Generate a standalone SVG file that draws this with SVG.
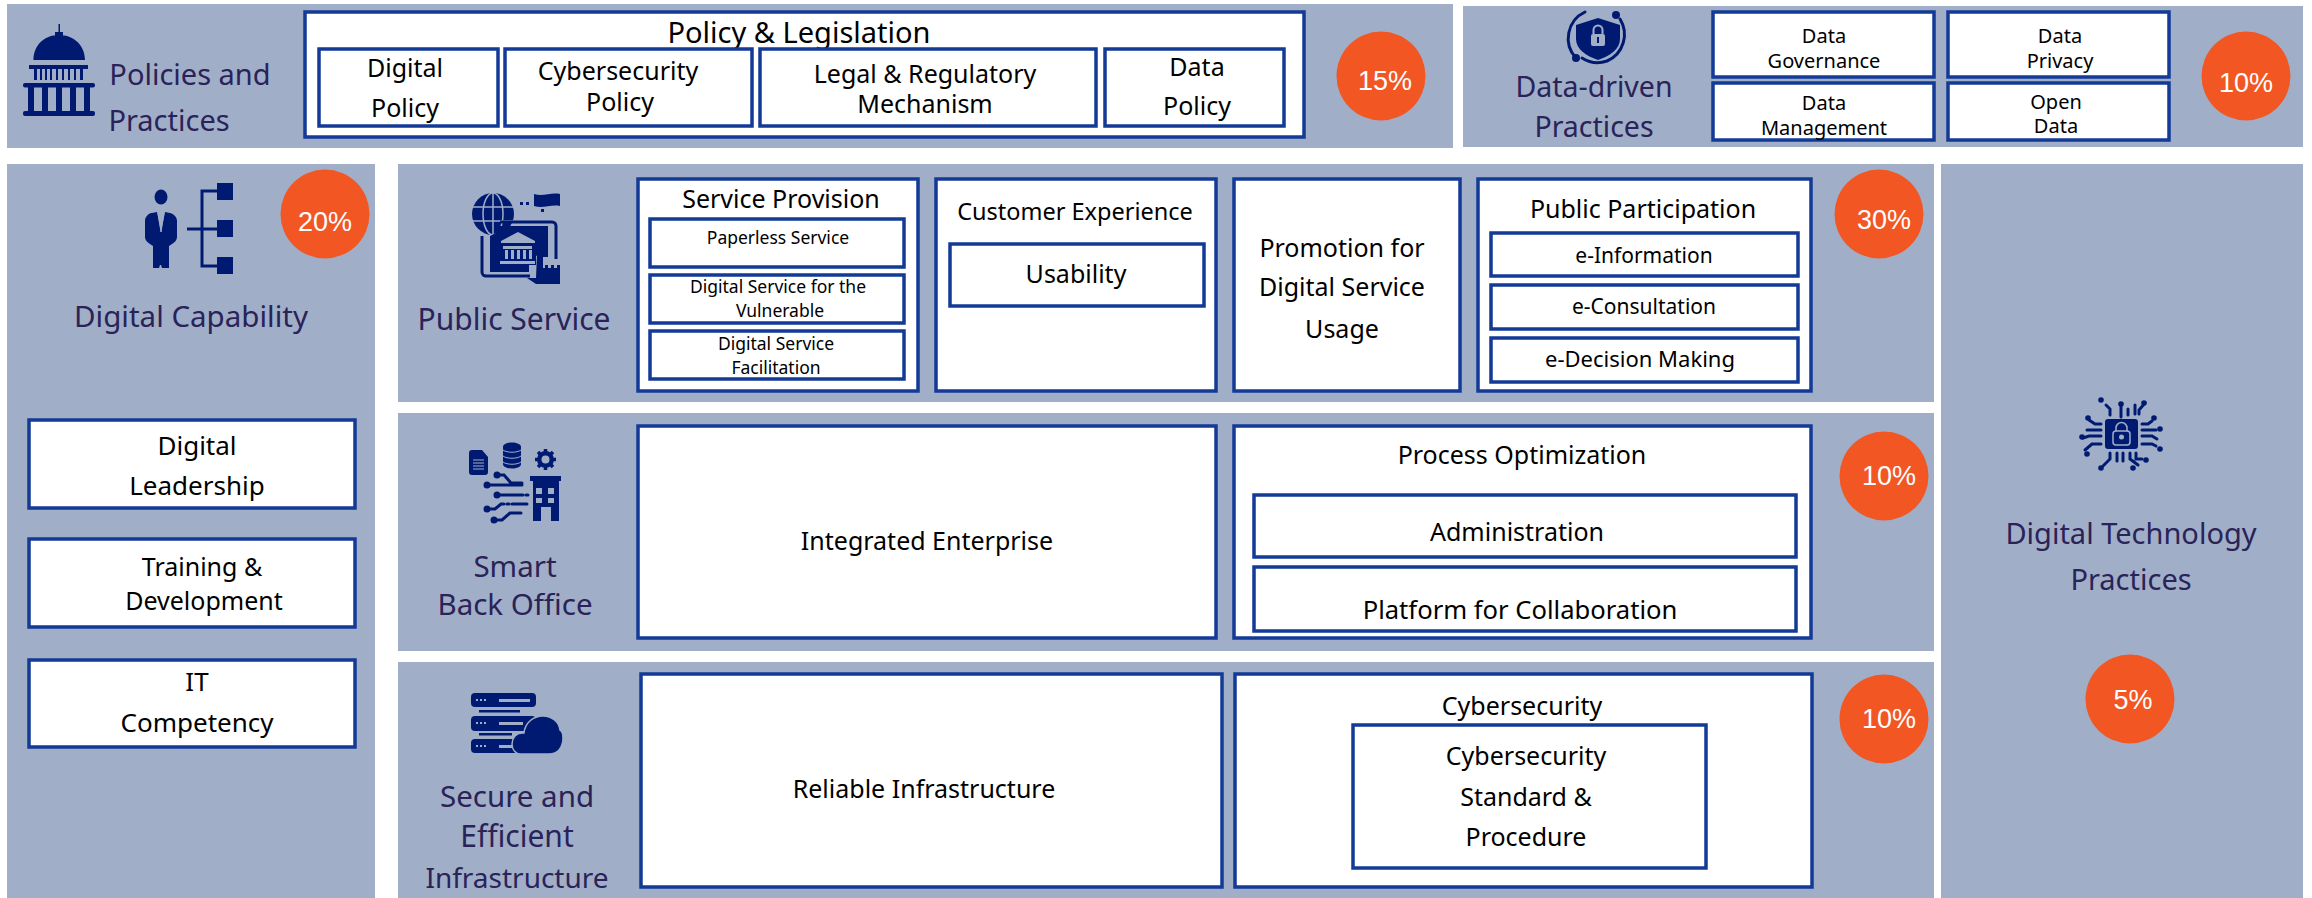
<svg xmlns="http://www.w3.org/2000/svg" width="2312" height="898" viewBox="0 0 2312 898">
<style>
text{font-family:"Noto Sans","Open Sans","Liberation Sans",sans-serif;text-anchor:middle;fill:#000}
.band{fill:#a1aec8}
.box{fill:#fff;stroke:#123a96;stroke-width:3.5}
.t{fill:#2a2358}
.pct{fill:#f15623}
text.p{fill:#fff;font-size:27px;font-family:"Liberation Sans",Arial,sans-serif}
.i{fill:#001a72}
.l{fill:none;stroke:#001a72;stroke-width:3;stroke-linecap:round}
.w{fill:#a1aec8}
</style>
<rect width="2312" height="898" fill="#fff"/>
<g id="policies">
<rect class="band" x="7" y="4" width="1446" height="144"/>
<g id="icon-capitol">
<path class="i" d="M58.500 24h1.500v8h-1.500z"/><path class="i" d="M55 32h8v4h-8zM33.500 60c0-14 10-25 25.500-25s26 11 26 25z"/>
<rect class="i" x="29" y="65" width="59" height="4"/><path class="i" d="M34 69h3v11h-3zM40 69h2v11h-2zM45 69h2v11h-2zM50 69h2v11h-2zM56 69h2v11h-2zM62 69h2v11h-2zM68 69h2v11h-2zM74 69h2v11h-2zM80 69h3v11h-3z"/>
<rect class="i" x="23" y="83" width="72" height="4.500" rx="2"/><path class="i" d="M28 87h6v24h-6zM42 87h6v24h-6zM56 87h6v24h-6zM70 87h6v24h-6zM84 87h6v24h-6z"/>
<rect class="i" x="23" y="111" width="72" height="5" rx="2"/>
</g>
<text class="t" font-size="29" x="190" y="85">Policies and</text>
<text class="t" font-size="29" x="169" y="131">Practices</text>
<rect class="box" x="305" y="12" width="999" height="125"/>
<text font-size="29" x="799" y="43">Policy &amp; Legislation</text>
<g id="digital-policy"><rect class="box" x="319" y="49" width="179" height="77"/><text font-size="25" x="405" y="77">Digital</text><text font-size="25" x="405" y="117">Policy</text></g>
<g id="cybersecurity-policy"><rect class="box" x="505" y="49" width="247" height="77"/><text font-size="25" x="618" y="80">Cybersecurity</text><text font-size="25" x="620" y="111">Policy</text></g>
<g id="legal"><rect class="box" x="760" y="49" width="336" height="77"/><text font-size="25" x="925" y="83">Legal &amp; Regulatory</text><text font-size="25" x="925" y="113">Mechanism</text></g>
<g id="data-policy"><rect class="box" x="1105" y="49" width="179" height="77"/><text font-size="25" x="1197" y="76">Data</text><text font-size="25" x="1197" y="115">Policy</text></g>
<circle class="pct" cx="1381" cy="76" r="44.500"/><text class="p" x="1385" y="90">15%</text>
</g>
<g id="data-driven">
<rect class="band" x="1463" y="6" width="840" height="141"/>
<g id="icon-shield">
<path class="l" stroke-width="2" d="M1585 12a29 29 0 0 0-9 46M1620 19a29 29 0 0 1-13 42a29 29 0 0 1-25-3"/>
<circle class="i" cx="1616" cy="15" r="4"/><circle class="i" cx="1576" cy="58" r="4"/>
<path class="i" d="M1598 18l22 7v14c0 10-10 17-22 21c-12-4-22-11-22-21v-14z"/>
<rect class="w" x="1591" y="34" width="14" height="12" rx="2"/><path d="M1593.500 34v-4a4.500 4.500 0 0 1 9 0v4" fill="none" stroke="#a1aec8" stroke-width="2"/><rect class="i" x="1597" y="37" width="2" height="6"/>
</g>
<text class="t" font-size="28.500" x="1594" y="97">Data-driven</text>
<text class="t" font-size="28.500" x="1594" y="137">Practices</text>
<g id="data-governance"><rect class="box" x="1713" y="12" width="221" height="65"/><text font-size="20" x="1824" y="43">Data</text><text font-size="20" x="1824" y="68">Governance</text></g>
<g id="data-privacy"><rect class="box" x="1948" y="12" width="221" height="65"/><text font-size="20" x="2060" y="43">Data</text><text font-size="20" x="2060" y="68">Privacy</text></g>
<g id="data-management"><rect class="box" x="1713" y="83" width="221" height="57"/><text font-size="20" x="1824" y="110">Data</text><text font-size="20" x="1824" y="135">Management</text></g>
<g id="open-data"><rect class="box" x="1948" y="83" width="221" height="57"/><text font-size="20" x="2056" y="109">Open</text><text font-size="20" x="2056" y="133">Data</text></g>
<circle class="pct" cx="2246" cy="76" r="44.500"/><text class="p" x="2246" y="92">10%</text>
</g>
<g id="digital-capability">
<rect class="band" x="7" y="164" width="368" height="734"/>
<g id="icon-person">
<ellipse class="i" cx="161" cy="197" rx="6.500" ry="7.500"/>
<path class="i" d="M152 213l5-1l4 20l4-20l5 1c4 1 7 4 7 8v16c0 3-2 5-5 7l-3 2v22h-7l-1-3h-1l-1 3h-6v-22l-3-2c-3-2-5-4-5-7v-16c0-4 3-7 6-8z"/>
<path d="M158 213l3 19l3-19" fill="none" stroke="#a1aec8" stroke-width="1"/>
<path d="M187 229h30M217 191h-15v75h15" fill="none" stroke="#001a72" stroke-width="3"/>
<rect class="i" x="217" y="183" width="16" height="17"/><rect class="i" x="217" y="220" width="16" height="17"/><rect class="i" x="217" y="257" width="16" height="17"/>
</g>
<text class="t" font-size="29.500" x="191" y="327">Digital Capability</text>
<g id="digital-leadership"><rect class="box" x="29" y="420" width="326" height="88"/><text font-size="26" x="197" y="455">Digital</text><text font-size="26" x="197" y="495">Leadership</text></g>
<g id="training"><rect class="box" x="29" y="539" width="326" height="88"/><text font-size="25" x="202" y="576">Training &amp;</text><text font-size="25" x="204" y="610">Development</text></g>
<g id="it-competency"><rect class="box" x="29" y="660" width="326" height="87"/><text font-size="26" x="197" y="691">IT</text><text font-size="26" x="197" y="732">Competency</text></g>
<circle class="pct" cx="325" cy="214" r="44.500"/><text class="p" x="325" y="231">20%</text>
</g>
<g id="public-service">
<rect class="band" x="398" y="164" width="1536" height="238"/>
<g id="icon-public">
<circle class="i" cx="493" cy="214" r="21"/>
<path d="M472 207h42M472 221h42M493 193v42" stroke="#a1aec8" stroke-width="1.500"/><ellipse cx="493" cy="214" rx="10" ry="21" fill="none" stroke="#a1aec8" stroke-width="1.500"/>
<path class="i" d="M534 194c9 3 17-2 26 0v12c-9-2-17 3-26 0zM520 202h3v3h-3zM526 202h3v3h-3zM541 209h3v3h-3z"/>
<path d="M500 222h52a4 4 0 0 1 4 4v33M482 236v36a4 4 0 0 0 4 4h44" fill="none" stroke="#001a72" stroke-width="3"/>
<path class="i" d="M490 236l6-3v32h33v7h-39z"/><path class="i" d="M496 226h52v31h-8v-3l-4 2v9h-40z"/>
<path class="w" d="M518 232l17 9v2h-34v-2zM503 246h29v3h-29zM505 250h3v9h-3zM511 250h3v9h-3zM517 250h3v9h-3zM523 250h3v9h-3zM529 250h3v9h-3zM500 261h35v3h-35z"/>
<path class="i" d="M537 254h6v14h2v-3h3v3h3v-3h3v3h3v-3h3v19h-24l-9-6h9z"/>
</g>
<text class="t" font-size="30" x="514" y="330">Public Service</text>
<g id="service-provision">
<rect class="box" x="638" y="179" width="280" height="212"/>
<text font-size="25" x="781" y="208">Service Provision</text>
<rect class="box" x="650" y="219" width="254" height="48"/><text font-size="17.500" x="778" y="244">Paperless Service</text>
<rect class="box" x="650" y="275" width="254" height="48"/><text font-size="17.500" x="778" y="293">Digital Service for the</text><text font-size="17.500" x="780" y="317">Vulnerable</text>
<rect class="box" x="650" y="331" width="254" height="48"/><text font-size="17.500" x="776" y="350">Digital Service</text><text font-size="17.500" x="776" y="374">Facilitation</text>
</g>
<g id="customer-experience">
<rect class="box" x="936" y="179" width="280" height="212"/>
<text font-size="23.500" x="1075" y="220">Customer Experience</text>
<rect class="box" x="950" y="244" width="254" height="62"/><text font-size="25" x="1076" y="283">Usability</text>
</g>
<g id="promotion"><rect class="box" x="1234" y="179" width="226" height="212"/><text font-size="25" x="1342" y="257">Promotion for</text><text font-size="25" x="1342" y="296">Digital Service</text><text font-size="25" x="1342" y="338">Usage</text></g>
<g id="public-participation">
<rect class="box" x="1478" y="179" width="333" height="212"/>
<text font-size="25" x="1643" y="218">Public Participation</text>
<rect class="box" x="1491" y="233" width="307" height="43"/><text font-size="21" x="1644" y="263">e-Information</text>
<rect class="box" x="1491" y="285" width="307" height="44"/><text font-size="21" x="1644" y="314">e-Consultation</text>
<rect class="box" x="1491" y="338" width="307" height="44"/><text font-size="22" x="1640" y="367">e-Decision Making</text>
</g>
<circle class="pct" cx="1879" cy="214" r="44.500"/><text class="p" x="1884" y="229">30%</text>
</g>
<g id="smart-back-office">
<rect class="band" x="398" y="413" width="1536" height="238"/>
<g id="icon-office">
<path class="i" d="M469 453a3 3 0 0 1 3-3h10l6 7v15a3 3 0 0 1-3 3h-13a3 3 0 0 1-3-3z"/><path d="M473 460h11M473 463h11M473 466h11M473 469h11" stroke="#a1aec8" stroke-width="1"/>
<path class="i" d="M503 447c0-6 18-6 18 0v17c0 6-18 6-18 0z"/><path d="M503 450c4 3 14 3 18 0M503 456c4 3 14 3 18 0M503 462c4 3 14 3 18 0" fill="none" stroke="#a1aec8" stroke-width="1"/>
<path d="M545.500 449v21M535 459.500h21M538 452l15 15M553 452l-15 15" stroke="#001a72" stroke-width="3.500"/><circle class="i" cx="545.500" cy="459.500" r="8.500"/><circle class="w" cx="545.500" cy="459.500" r="4"/>
<path class="i" d="M530 476h31v5h-2v40h-8v-14h-10v14h-8v-40h-3z"/><path class="w" d="M536 488h6v6h-6zM548 488h6v6h-6zM536 498h6v5h-6zM548 498h6v5h-6z"/>
<path class="l" d="M497 475h7l7 8h11M487 485h35M497 495h26M526 495h2M487 509h8l6-5h3M507 504h2M512 504h15M494 520h8l8-7h11"/>
<circle class="i" cx="497" cy="475" r="3.500"/><circle class="i" cx="487" cy="485" r="3.500"/><circle class="i" cx="497" cy="495" r="3.500"/><circle class="i" cx="487" cy="509" r="3.500"/><circle class="i" cx="494" cy="520" r="3.500"/>
</g>
<text class="t" font-size="29.500" x="515" y="577">Smart</text>
<text class="t" font-size="29.500" x="515" y="615">Back Office</text>
<g id="integrated-enterprise"><rect class="box" x="638" y="426" width="578" height="212"/><text font-size="25" x="927" y="550">Integrated Enterprise</text></g>
<g id="process-optimization">
<rect class="box" x="1234" y="426" width="577" height="212"/>
<text font-size="25" x="1522" y="464">Process Optimization</text>
<rect class="box" x="1254" y="495" width="542" height="62"/><text font-size="25" x="1517" y="541">Administration</text>
<rect class="box" x="1254" y="567" width="542" height="64"/><text font-size="25.600" x="1520" y="619">Platform for Collaboration</text>
</g>
<circle class="pct" cx="1884" cy="476" r="44.500"/><text class="p" x="1889" y="485">10%</text>
</g>
<g id="secure-infrastructure">
<rect class="band" x="398" y="662" width="1536" height="236"/>
<g id="icon-cloud">
<rect class="i" x="471" y="693" width="65" height="14" rx="4"/><rect class="i" x="471" y="716" width="65" height="15" rx="4"/><rect class="i" x="471" y="739" width="50" height="14" rx="4"/>
<path class="i" d="M479 710h41v2.500h-41zM479 733h33v2.500h-33z"/>
<path class="w" d="M499 699h31v3h-31zM499 722h24v3h-24zM499 745h14v3h-14zM476 699h2v2h-2zM480 699h2v2h-2zM484 699h2v2h-2zM476 722h2v2h-2zM480 722h2v2h-2zM484 722h2v2h-2zM476 745h2v2h-2zM480 745h2v2h-2zM484 745h2v2h-2z"/>
<path d="M521 754c-6 0-9-5-9-10c0-6 4-11 10-11h2c1-10 9-17 19-17c9 0 16 6 17 14c2 1 3 4 3 8c0 9-5 16-14 16z" fill="#001a72" stroke="#a1aec8" stroke-width="1.500"/>
</g>
<text class="t" font-size="29.500" x="517" y="807">Secure and</text>
<text class="t" font-size="30" x="517" y="847">Efficient</text>
<text class="t" font-size="28" x="517" y="888">Infrastructure</text>
<g id="reliable-infrastructure"><rect class="box" x="641" y="674" width="581" height="213"/><text font-size="25" x="924" y="798">Reliable Infrastructure</text></g>
<g id="cybersecurity">
<rect class="box" x="1235" y="674" width="577" height="213"/>
<text font-size="25" x="1522" y="715">Cybersecurity</text>
<rect class="box" x="1353" y="725" width="353" height="143"/>
<text font-size="25" x="1526" y="765">Cybersecurity</text><text font-size="25" x="1526" y="806">Standard &amp;</text><text font-size="25" x="1526" y="846">Procedure</text>
</g>
<circle class="pct" cx="1884" cy="719" r="44.500"/><text class="p" x="1889" y="728">10%</text>
</g>
<g id="digital-technology">
<rect class="band" x="1941" y="164" width="362" height="734"/>
<g id="icon-chip">
<rect class="i" x="2105" y="419" width="33" height="30" rx="3"/>
<rect x="2113" y="431" width="17" height="14" rx="3" fill="none" stroke="#a1aec8" stroke-width="1.500"/><path d="M2116 431v-3a5.500 5.500 0 0 1 11 0v3" fill="none" stroke="#a1aec8" stroke-width="1.500"/><circle class="w" cx="2121.500" cy="437" r="2.500"/>
<path class="l" stroke-width="2" d="M2106 405l4 4v6M2121 405v12M2128 409v6M2135 405v9M2145 403l-6 7v4M2101 424h-6l-6-4M2101 430h-14M2101 436h-12l-6 2M2101 444h-9l-7 6M2142 424h6l4-3M2142 430h14M2142 436h10l5 3M2142 444h10l4 2M2110 453v6l-7 7M2117 453v8M2123 453v8M2130 453v6l8 6M2136 453v6h6"/>
<circle class="i" cx="2101" cy="400" r="2.800"/><circle class="i" cx="2121" cy="404" r="2.800"/><circle class="i" cx="2144" cy="403" r="2.800"/><circle class="i" cx="2088" cy="418" r="2.800"/><circle class="i" cx="2154" cy="418" r="2.800"/><circle class="i" cx="2082" cy="437" r="2.800"/><circle class="i" cx="2160" cy="429" r="2.800"/><circle class="i" cx="2160" cy="449" r="2.800"/><circle class="i" cx="2087" cy="454" r="2.800"/><circle class="i" cx="2146" cy="460" r="2.800"/><circle class="i" cx="2101" cy="468" r="2.800"/><circle class="i" cx="2133" cy="468" r="2.800"/>
</g>
<text class="t" font-size="29" x="2131" y="544">Digital Technology</text>
<text class="t" font-size="29" x="2131" y="590">Practices</text>
<circle class="pct" cx="2130" cy="699" r="44.500"/><text class="p" x="2133" y="709">5%</text>
</g>
</svg>
